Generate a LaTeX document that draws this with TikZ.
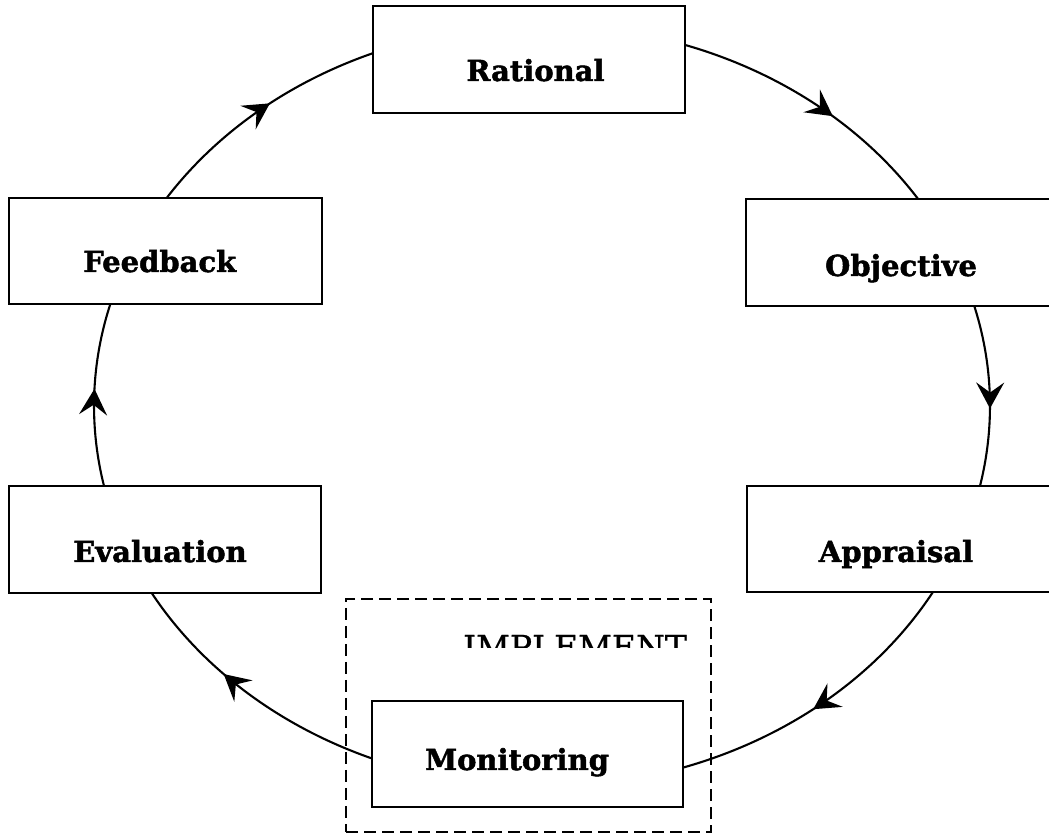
\documentclass[tikz,border=0pt]{standalone}
\usepackage{fontspec}
\setmainfont{DejaVu Serif}
\newfontfamily\stagefont{DejaVu Serif Bold}[FakeBold=1.6]
\newfontfamily\groupfont{DejaVu Serif}[FakeBold=0.6]
\usetikzlibrary{arrows.meta,decorations.markings,calc}
\tikzset{
  stagebox/.style={draw, line width=2.2pt, fill=white, minimum width=312pt, minimum height=107pt, inner sep=0pt},
  stagelabel/.style={anchor=base, font=\stagefont\fontsize{29}{34}\selectfont, inner sep=0pt},
  flow/.style={line width=2.1pt, postaction={decorate}, decoration={markings, mark=at position #1 with {\arrow{Stealth[length=26pt,width=28pt,inset=10pt]}}}},
  flow/.default=0.55,
  groupbox/.style={draw, dash pattern=on 12pt off 6pt, line width=1.9pt, inner sep=0pt},
  implabel/.style={anchor=base, font=\groupfont\fontsize{33}{38}\selectfont, inner sep=0pt},
  ell/.style={x radius=448pt, y radius=381pt}
}
\begin{document}
\begin{tikzpicture}[x=1pt,y=1pt]
\useasboundingbox (0,0) rectangle (1049,835);
\clip (0,0) rectangle (1049,835);
\coordinate (c) at (542,429);
% connection points on the cycle
\coordinate (s1) at ([shift={(72:448pt and 381pt)}]c);
\coordinate (s2) at ([shift={(15.8:448pt and 381pt)}]c);
\coordinate (s3) at ([shift={(-28.6:448pt and 381pt)}]c);
\coordinate (s4) at ([shift={(-111.8:448pt and 381pt)}]c);
\coordinate (s5) at ([shift={(192.6:448pt and 381pt)}]c);
\coordinate (s6) at ([shift={(147.5:448pt and 381pt)}]c);
% connectors
\draw[flow=0.58] (s1) arc[ell, start angle=72, end angle=32.4];
\draw[flow=0.57] (s2) arc[ell, start angle=15.8, end angle=-12.6];
\draw[flow=0.54] (s3) arc[ell, start angle=-28.6, end angle=-72.2];
\draw[flow=0.61] (s4) arc[ell, start angle=-111.8, end angle=-151.1];
\draw[flow=0.53] (s5) arc[ell, start angle=192.6, end angle=164.0];
\draw[flow=0.55] (s6) arc[ell, start angle=147.5, end angle=111.7];
% implement group
\node[groupbox, minimum width=365pt, minimum height=233pt] (impbox) at (528.5,119.5) {};
\begin{scope}
\clip (440,187) rectangle (700,215);
\node[implabel] (impl) at (575,176) {IMPLEMENT};
\end{scope}
% stages
\node[stagebox] (rat) at (529,775.5) {};
\node[stagebox, minimum width=313pt] (obj) at (902.5,582.5) {};
\node[stagebox, minimum width=313pt, minimum height=106pt] (app) at (903.5,296) {};
\node[stagebox, minimum width=311pt, minimum height=106pt] (mon) at (527.5,81) {};
\node[stagebox] (eva) at (165,295.5) {};
\node[stagebox, minimum width=313pt, minimum height=106pt] (fee) at (165.5,584) {};
\node[stagelabel] (ratl) at (535.5,754) {Rational};
\node[stagelabel] (objl) at (901,559) {Objective};
\node[stagelabel] (appl) at (896,273) {Appraisal};
\node[stagelabel] (monl) at (517,65) {Monitoring};
\node[stagelabel] (eval) at (160,273) {Evaluation};
\node[stagelabel] (feel) at (159.7,563) {Feedback};
\end{tikzpicture}
\end{document}
